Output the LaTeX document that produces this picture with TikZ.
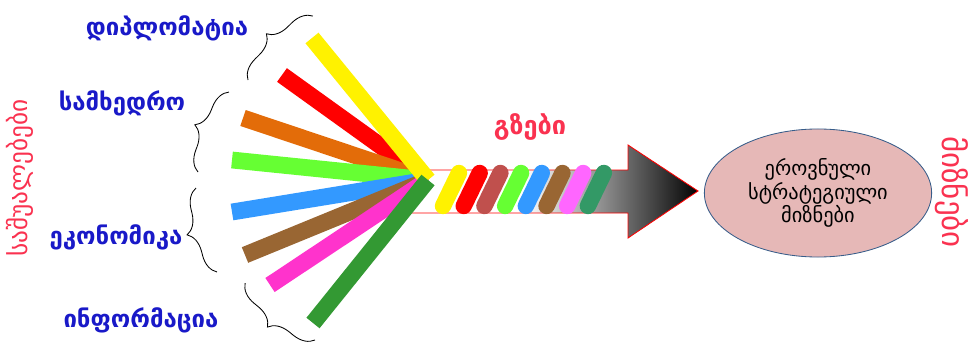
\documentclass[tikz,border=0pt]{standalone}
\usepackage{fontspec}
\usepackage{xcolor}
\usetikzlibrary{decorations.pathreplacing,shapes.geometric}
\newfontfamily\geofont{DejaVu Sans}
\definecolor{meansblue}{RGB}{25,25,200}
\definecolor{meansred}{RGB}{250,50,80}
\definecolor{goalfill}{RGB}{230,184,183}
\definecolor{goalline}{RGB}{56,93,138}
\definecolor{barorange}{RGB}{227,108,9}
\definecolor{bargreen}{RGB}{102,255,51}
\definecolor{barblue}{RGB}{51,153,255}
\definecolor{barbrown}{RGB}{153,102,51}
\definecolor{barpink}{RGB}{255,51,204}
\definecolor{bardkgreen}{RGB}{51,153,51}
\definecolor{stripered}{RGB}{192,80,77}
\definecolor{stripepink}{RGB}{255,102,255}
\definecolor{stripegreen}{RGB}{51,153,102}
% outline of the arrow of ways
\newcommand{\waysarrow}{%
  (405,170) -- (628,170) -- (628,145) -- (698,191) -- (628,238) -- (628,213) -- (405,213) -- cycle}
\tikzset{
  fanbar/.style={line width=0.42cm},
  stripe/.style={line width=0.41cm, line cap=round},
  curlybrace/.style={decorate, decoration={brace,amplitude=0.5cm}, line width=0.6pt},
  meanslabel/.style={font=\geofont\bfseries\fontsize{17}{20}\selectfont, text=meansblue},
  sidelabel/.style={font=\geofont\fontsize{18}{20}\selectfont, text=meansred}
}
\begin{document}
\begin{tikzpicture}[x=0.025cm,y=-0.025cm]
  \useasboundingbox (0,0) rectangle (968,342);
  % arrow of ways
  \begin{scope}
    \clip \waysarrow;
    \fill[white] (400,140) rectangle (525,240);
    \shade[left color=white, right color=black] (524,140) rectangle (700,240);
  \end{scope}
  \draw[red, line width=0.6pt] \waysarrow;
  \node[font=\geofont\bfseries\fontsize{18}{20}\selectfont, text=meansred] (ways) at (530,127) {გზები};
  % fan of means
  \coordinate (hub) at (428,180);
  \foreach \col/\x/\y [count=\i] in {red/282/75, barorange/243/118, bargreen/232/160,
      barblue/232/212, barbrown/245/255, barpink/270/285, yellow/312/38, bardkgreen/313/323}
    {\coordinate (bar\i) at (\x,\y);
     \draw[fanbar, draw=\col] (bar\i) -- (hub);}
  % stripes round the arrow
  \foreach \col [count=\i from 0] in {yellow, red, stripered, bargreen, barblue, barbrown, stripepink, stripegreen}
    {\draw[stripe, draw=\col] ({443+\i*20.7},206) -- ({459+\i*20.7},173);}
  % means
  \node[meanslabel] (diplomacy) at (167,28) {დიპლომატია};
  \node[meanslabel] (military) at (122,103) {სამხედრო};
  \node[meanslabel] (economy) at (116,237) {ეკონომიკა};
  \node[meanslabel] (information) at (141,320) {ინფორმაცია};
  \draw[curlybrace] (248,80) -- (313,16);
  \draw[curlybrace] (198,172) -- (229,92);
  \draw[curlybrace] (217,272) -- (196,188);
  \draw[curlybrace] (315,340) -- (245,283);
  \node[sidelabel, rotate=90] (meansside) at (20,178) {საშუალებები};
  % ends
  \node[ellipse, draw=goalline, fill=goalfill, line width=0.6pt, inner sep=0pt,
        minimum width=5.68cm, minimum height=3.2cm, align=center,
        font=\geofont\fontsize{14.5}{16.7}\selectfont] (goal) at (818,193)
    {ეროვნული\\სტრატეგიული\\მიზნები};
  \node[sidelabel, font=\geofont\fontsize{22}{24}\selectfont, rotate=-90] (endsside) at (952,192) {მიზნები};
\end{tikzpicture}
\end{document}
